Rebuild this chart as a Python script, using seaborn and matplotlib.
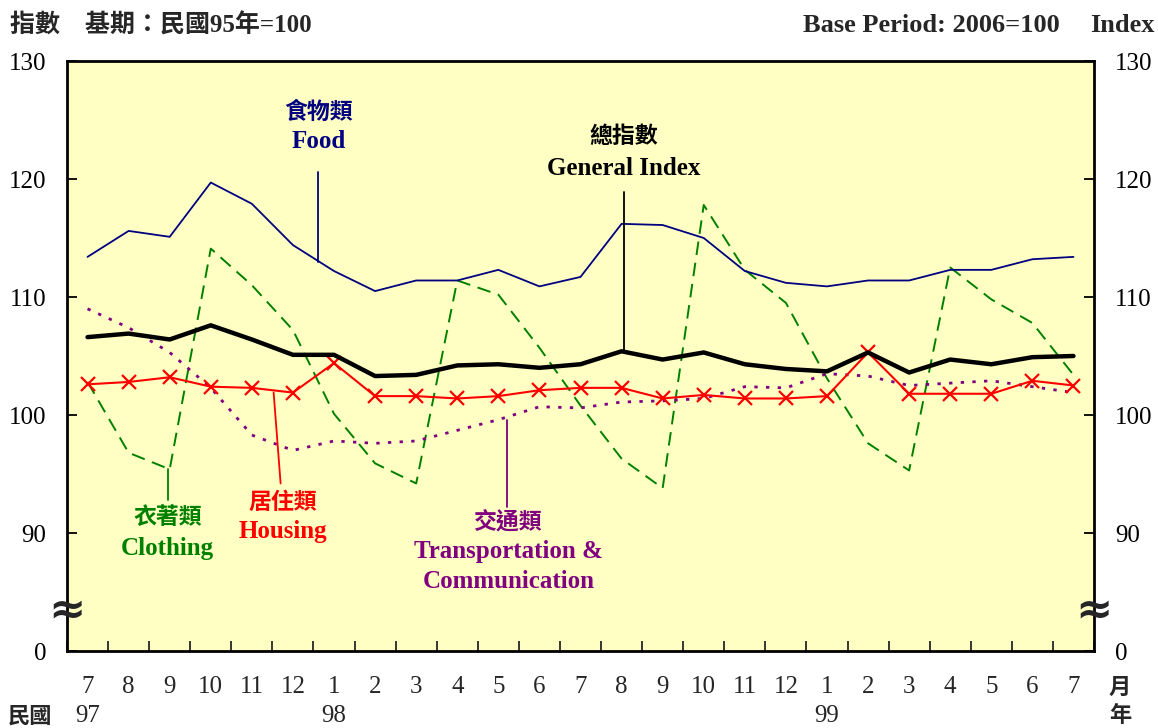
import numpy as np
import pandas as pd
import seaborn as sns
import matplotlib.pyplot as plt

sns.set_theme(style="white")
plt.rcParams['font.family'] = ['Liberation Serif', 'Noto Sans CJK TC', 'DejaVu Sans']

months = ['7', '8', '9', '10', '11', '12', '1', '2', '3', '4', '5', '6',
          '7', '8', '9', '10', '11', '12', '1', '2', '3', '4', '5', '6', '7']
years = {0: '97', 6: '98', 18: '99'}

food = [113.4, 115.6, 115.1, 119.7, 117.9, 114.4, 112.2, 110.5, 111.4, 111.4, 112.3, 110.9, 111.7,
        116.2, 116.1, 115.0, 112.2, 111.2, 110.9, 111.4, 111.4, 112.3, 112.3, 113.2, 113.4]
general = [106.6, 106.9, 106.4, 107.6, 106.4, 105.1, 105.1, 103.3, 103.4, 104.2, 104.3, 104.0, 104.3,
           105.4, 104.7, 105.3, 104.3, 103.9, 103.7, 105.3, 103.6, 104.7, 104.3, 104.9, 105.0]
clothing = [102.8, 96.8, 95.4, 114.1, 111.0, 107.2, 100.1, 95.9, 94.2, 111.4, 110.2, 105.7, 100.8,
            96.3, 93.8, 117.8, 112.3, 109.5, 103.1, 97.6, 95.3, 112.5, 109.8, 107.8, 103.4]
housing = [102.6, 102.8, 103.2, 102.4, 102.3, 101.9, 104.4, 101.6, 101.6, 101.4, 101.6, 102.1, 102.3,
           102.3, 101.4, 101.7, 101.4, 101.4, 101.6, 105.3, 101.8, 101.8, 101.8, 102.9, 102.5]
transport = [109.0, 107.4, 105.3, 102.3, 98.3, 97.0, 97.8, 97.6, 97.8, 98.7, 99.6, 100.7, 100.6,
             101.1, 101.2, 101.4, 102.4, 102.3, 103.5, 103.3, 102.5, 102.7, 102.9, 102.4, 101.9]

yticks = [80, 90, 100, 110, 120, 130]
ylabels = ['0', '90', '100', '110', '120', '130']

df = pd.DataFrame({'t': np.arange(len(months)), 'food': food, 'general': general,
                   'clothing': clothing, 'housing': housing, 'transport': transport})

fig = plt.figure(figsize=(11.58, 7.28), dpi=100)
ax = fig.add_axes([67 / 1158, 1 - 651 / 728, (1094 - 67) / 1158, (651 - 61) / 728])
ax.set_facecolor('#FFFFC4')

sns.lineplot(data=df, x='t', y='clothing', ax=ax, color='#008000', lw=1.4)
ax.lines[-1].set_dashes((7, 4))
sns.lineplot(data=df, x='t', y='transport', ax=ax, color='#800080', lw=2)
ax.lines[-1].set_dashes((1.2, 3))
sns.lineplot(data=df, x='t', y='food', ax=ax, color='#000080', lw=1.3)
sns.lineplot(data=df, x='t', y='housing', ax=ax, color='#FF0000', lw=1.5,
             marker='x', markersize=10, markeredgewidth=1.6, markeredgecolor='#FF0000')
sns.lineplot(data=df, x='t', y='general', ax=ax, color='black', lw=3.2)

ax.set_xlim(-0.5, len(months) - 0.5)
ax.set_ylim(80, 130)
ax.set_xlabel('')
ax.set_ylabel('')
ax.set_yticks(yticks, labels=ylabels)
ax.yaxis.set_ticks_position('both')
ax.tick_params(axis='y', direction='in', length=7, width=1.3, pad=15, labelsize=18,
               labelright=True, left=True, right=True, colors='black')
ax.set_xticks(np.arange(len(months)), labels=[])
ax.set_xticks(np.arange(len(months) + 1) - 0.5, minor=True)
ax.tick_params(axis='x', which='major', length=0)
ax.tick_params(axis='x', which='minor', direction='in', length=7, width=1.3, bottom=True)
for s in ax.spines.values():
    s.set_linewidth(2)
    s.set_color('black')

xt = ax.get_xaxis_transform()
for i, m in enumerate(months):
    ax.text(i, -0.061, m, transform=xt, ha='center', va='center', fontsize=18)
for i, y in years.items():
    ax.text(i, -0.110, y, transform=xt, ha='center', va='center', fontsize=18)

cjk = ['Noto Sans CJK TC', 'DejaVu Sans']
mixed = ['Liberation Serif', 'Noto Sans CJK TC']
fig.text(30 / 1158, 1 - 716 / 728, '民國', family=cjk, weight='bold', fontsize=16, ha='center', va='center')
fig.text(1120 / 1158, 1 - 687 / 728, '月', family=cjk, weight='bold', fontsize=16, ha='center', va='center')
fig.text(1120 / 1158, 1 - 716 / 728, '年', family=cjk, weight='bold', fontsize=16, ha='center', va='center')

fig.text(10 / 1158, 1 - 25 / 728, '指數　基期：民國95年=100', family=mixed, weight='bold',
         fontsize=18, ha='left', va='center')
fig.text(1060 / 1158, 1 - 25 / 728, 'Base Period: 2006=100', weight='bold',
         fontsize=19, ha='right', va='center')
fig.text(1155 / 1158, 1 - 25 / 728, 'Index', weight='bold', fontsize=19, ha='right', va='center')

# axis break marks
for xa in (0, 1):
    ax.text(xa, 83.5, '≈', transform=ax.get_yaxis_transform(), ha='center', va='center',
            fontsize=32, weight='bold', family='DejaVu Sans', clip_on=False, zorder=10)

# series labels with leader lines
def label(x, y, zh, en, color, line):
    ax.text(x, y[0], zh, family=cjk, weight='bold', fontsize=16.5, color=color, ha='center', va='center')
    for k, e in enumerate(en):
        ax.text(x, y[k + 1], e, weight='bold', fontsize=18, color=color, ha='center', va='center')
    ax.plot(line[0], line[1], color=color, lw=1.3)

label(5.62, [125.6, 123.2], '食物類', ['Food'], '#000080', ([5.62, 5.62], [120.6, 113.0]))
label(13.05, [123.6, 120.9], '總指數', ['General Index'], 'black', ([13.05, 13.05], [118.9, 105.4]))
label(1.95, [91.3, 88.7], '衣著類', ['Clothing'], '#008000', ([1.95, 1.95], [95.4, 92.8]))
label(4.75, [92.6, 90.1], '居住類', ['Housing'], '#FF0000', ([4.53, 4.70], [101.9, 94.2]))
label(10.25, [90.9, 88.4, 85.9], '交通類', ['Transportation &', 'Communication'], '#800080',
      ([10.22, 10.22], [99.6, 92.2]))

fig.savefig('out.png', dpi=100)
